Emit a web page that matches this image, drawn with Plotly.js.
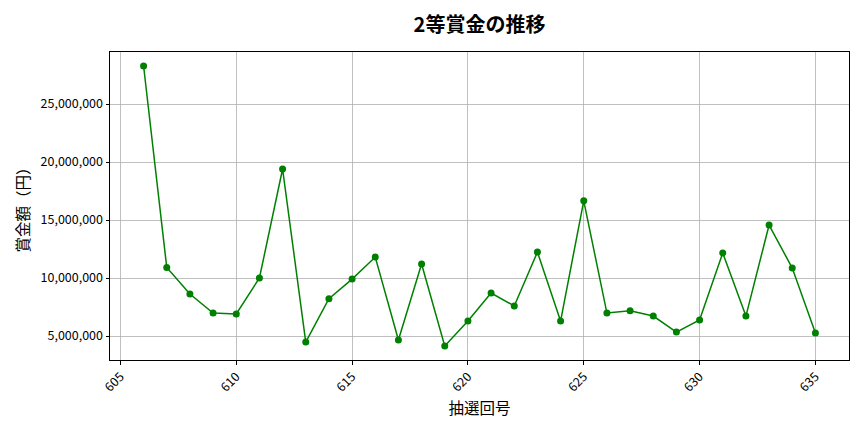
<!DOCTYPE html>
<html>
<head>
<meta charset="utf-8">
<script src="https://cdn.plot.ly/plotly-3.0.1.min.js"></script>
<style>html,body{margin:0;padding:0;background:#fff}#chart{width:864px;height:432px}</style>
</head>
<body>
<div id="chart"></div>
<script>
const drawNumbers = [606,607,608,609,610,611,612,613,614,615,616,617,618,619,620,621,622,623,624,625,626,627,628,629,630,631,632,633,634,635];
const prizeValues = [28280000,10910000,8620000,6980000,6900000,10000000,19400000,4480000,8220000,9910000,11810000,4660000,11210000,4140000,6290000,8710000,7590000,12240000,6290000,16660000,6980000,7180000,6720000,5340000,6380000,12160000,6720000,14570000,10860000,5260000];
const xTickVals = [605,610,615,620,625,630,635];
const yTickVals = [5000000,10000000,15000000,20000000,25000000];
const yTickText = ['5,000,000','10,000,000','15,000,000','20,000,000','25,000,000'];

const font = '"Noto Sans CJK JP", "Noto Sans", sans-serif';
const trace = {
  x: drawNumbers, y: prizeValues, type: 'scatter', mode: 'lines+markers',
  line: {color: 'green', width: 1.5},
  marker: {color: 'green', size: 7},
  hoverinfo: 'x+y'
};
const minV = Math.min(...prizeValues), maxV = Math.max(...prizeValues);
const pad = (maxV - minV) * 0.05;
const xmin = Math.min(...drawNumbers), xmax = Math.max(...drawNumbers);
const xpad = (xmax - xmin) * 0.05;
const layout = {
  width: 864, height: 432,
  margin: {l: 110, r: 15, t: 52, b: 72},
  paper_bgcolor: '#fff', plot_bgcolor: '#fff',
  font: {family: font, color: '#000', size: 12},
  title: {text: '<b>2等賞金の推移</b>', xref: 'paper', x: 0.5, xanchor: 'center', y: 0.942, yanchor: 'middle', font: {family: font, size: 20, color: '#000'}},
  xaxis: {
    range: [xmin - xpad, xmax + xpad],
    tickvals: xTickVals, ticktext: xTickVals.map(String), tickangle: -45,
    ticks: 'outside', ticklen: 3.5, tickcolor: '#000', tickwidth: 1,
    showgrid: true, gridcolor: '#b0b0b0', gridwidth: 0.8,
    showline: true, linecolor: '#000', linewidth: 1, mirror: true,
    zeroline: false,
    tickfont: {family: font, size: 12.5, color: '#000'},
    title: {text: '抽選回号', font: {family: font, size: 15.5, color: '#000'}, standoff: 8}
  },
  yaxis: {
    range: [minV - pad, maxV + pad],
    tickvals: yTickVals, ticktext: yTickText,
    ticks: 'outside', ticklen: 3.5, tickcolor: '#000', tickwidth: 1,
    showgrid: true, gridcolor: '#b0b0b0', gridwidth: 0.8,
    showline: true, linecolor: '#000', linewidth: 1, mirror: true,
    zeroline: false,
    tickfont: {family: font, size: 12.5, color: '#000'},
    title: {text: '賞金額（円）', font: {family: font, size: 15.5, color: '#000'}, standoff: 7}
  },
  showlegend: false
};
Plotly.newPlot('chart', [trace], layout, {displayModeBar: false, staticPlot: true});
</script>
</body>
</html>
